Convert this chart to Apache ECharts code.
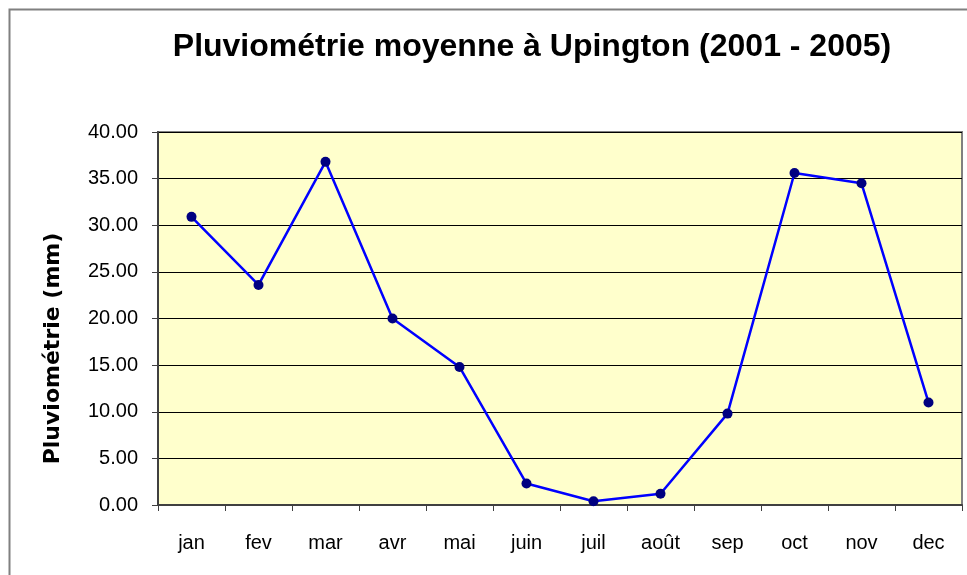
<!DOCTYPE html>
<html>
<head>
<meta charset="utf-8">
<script src="https://cdn.jsdelivr.net/npm/echarts@6/dist/echarts.min.js"></script>
<style>
  html, body { margin: 0; padding: 0; background: #fff; }
  #chart { width: 967px; height: 575px; }
</style>
</head>
<body>
<div id="chart"></div>
<script>
// monthly averages
const months = ['jan', 'fev', 'mar', 'avr', 'mai', 'juin', 'juil', 'août', 'sep', 'oct', 'nov', 'dec']
const rainfall = [30.9, 23.6, 36.8, 20.0, 14.8, 2.3, 0.4, 1.2, 9.8, 35.6, 34.5, 11.0]
const yMin = 0
const yMax = 40
const yStep = 5

const chart = echarts.init(document.getElementById('chart'))

chart.setOption({
  animation: false,
  backgroundColor: '#fff',
  title: {
    text: 'Pluviométrie moyenne à Upington (2001 - 2005)',
    left: 527,
    top: 26,
    textAlign: 'center',
    textStyle: {
      fontFamily: 'Liberation Sans',
      fontSize: 32,
      fontWeight: 'bold',
      color: '#000'
    }
  },
  graphic: [{
    type: 'rect',
    shape: { x: 9.5, y: 9.5, width: 980, height: 600 },
    style: { fill: 'none', stroke: '#808080', lineWidth: 2 },
    silent: true
  }],
  grid: {
    left: 158,
    right: 5,
    top: 132,
    bottom: 70,
    show: true,
    backgroundColor: '#ffffcc',
    borderColor: '#808080',
    borderWidth: 2
  },
  xAxis: {
    type: 'category',
    data: months,
    boundaryGap: true,
    axisLine: { lineStyle: { color: '#404040', width: 2 } },
    axisTick: { show: true, length: 6, lineStyle: { color: '#404040', width: 1 } },
    axisLabel: {
      margin: 28,
      fontFamily: 'Liberation Sans',
      fontSize: 20,
      color: '#000'
    },
    splitLine: { show: false }
  },
  yAxis: {
    type: 'value',
    min: yMin,
    max: yMax,
    interval: yStep,
    name: 'Pluviométrie (mm)',
    nameLocation: 'middle',
    nameGap: 94,
    nameTextStyle: {
      fontFamily: 'DejaVu Sans',
      fontSize: 22,
      fontWeight: 'bold',
      color: '#000',
      padding: [0, 0, 0, -60]
    },
    axisLine: { show: true, lineStyle: { color: '#404040', width: 2 } },
    axisTick: { show: true, length: 6, lineStyle: { color: '#404040', width: 1 } },
    axisLabel: {
      margin: 20,
      fontFamily: 'Liberation Sans',
      fontSize: 20,
      color: '#000',
      formatter: v => v.toFixed(2)
    },
    splitLine: { show: true, lineStyle: { color: '#000', width: 1 } }
  },
  series: [{
    name: 'Pluviométrie',
    type: 'line',
    data: rainfall,
    symbol: 'circle',
    symbolSize: 10,
    itemStyle: { color: '#000080' },
    lineStyle: { color: '#0000ff', width: 2.5 }
  }]
})
</script>
</body>
</html>
